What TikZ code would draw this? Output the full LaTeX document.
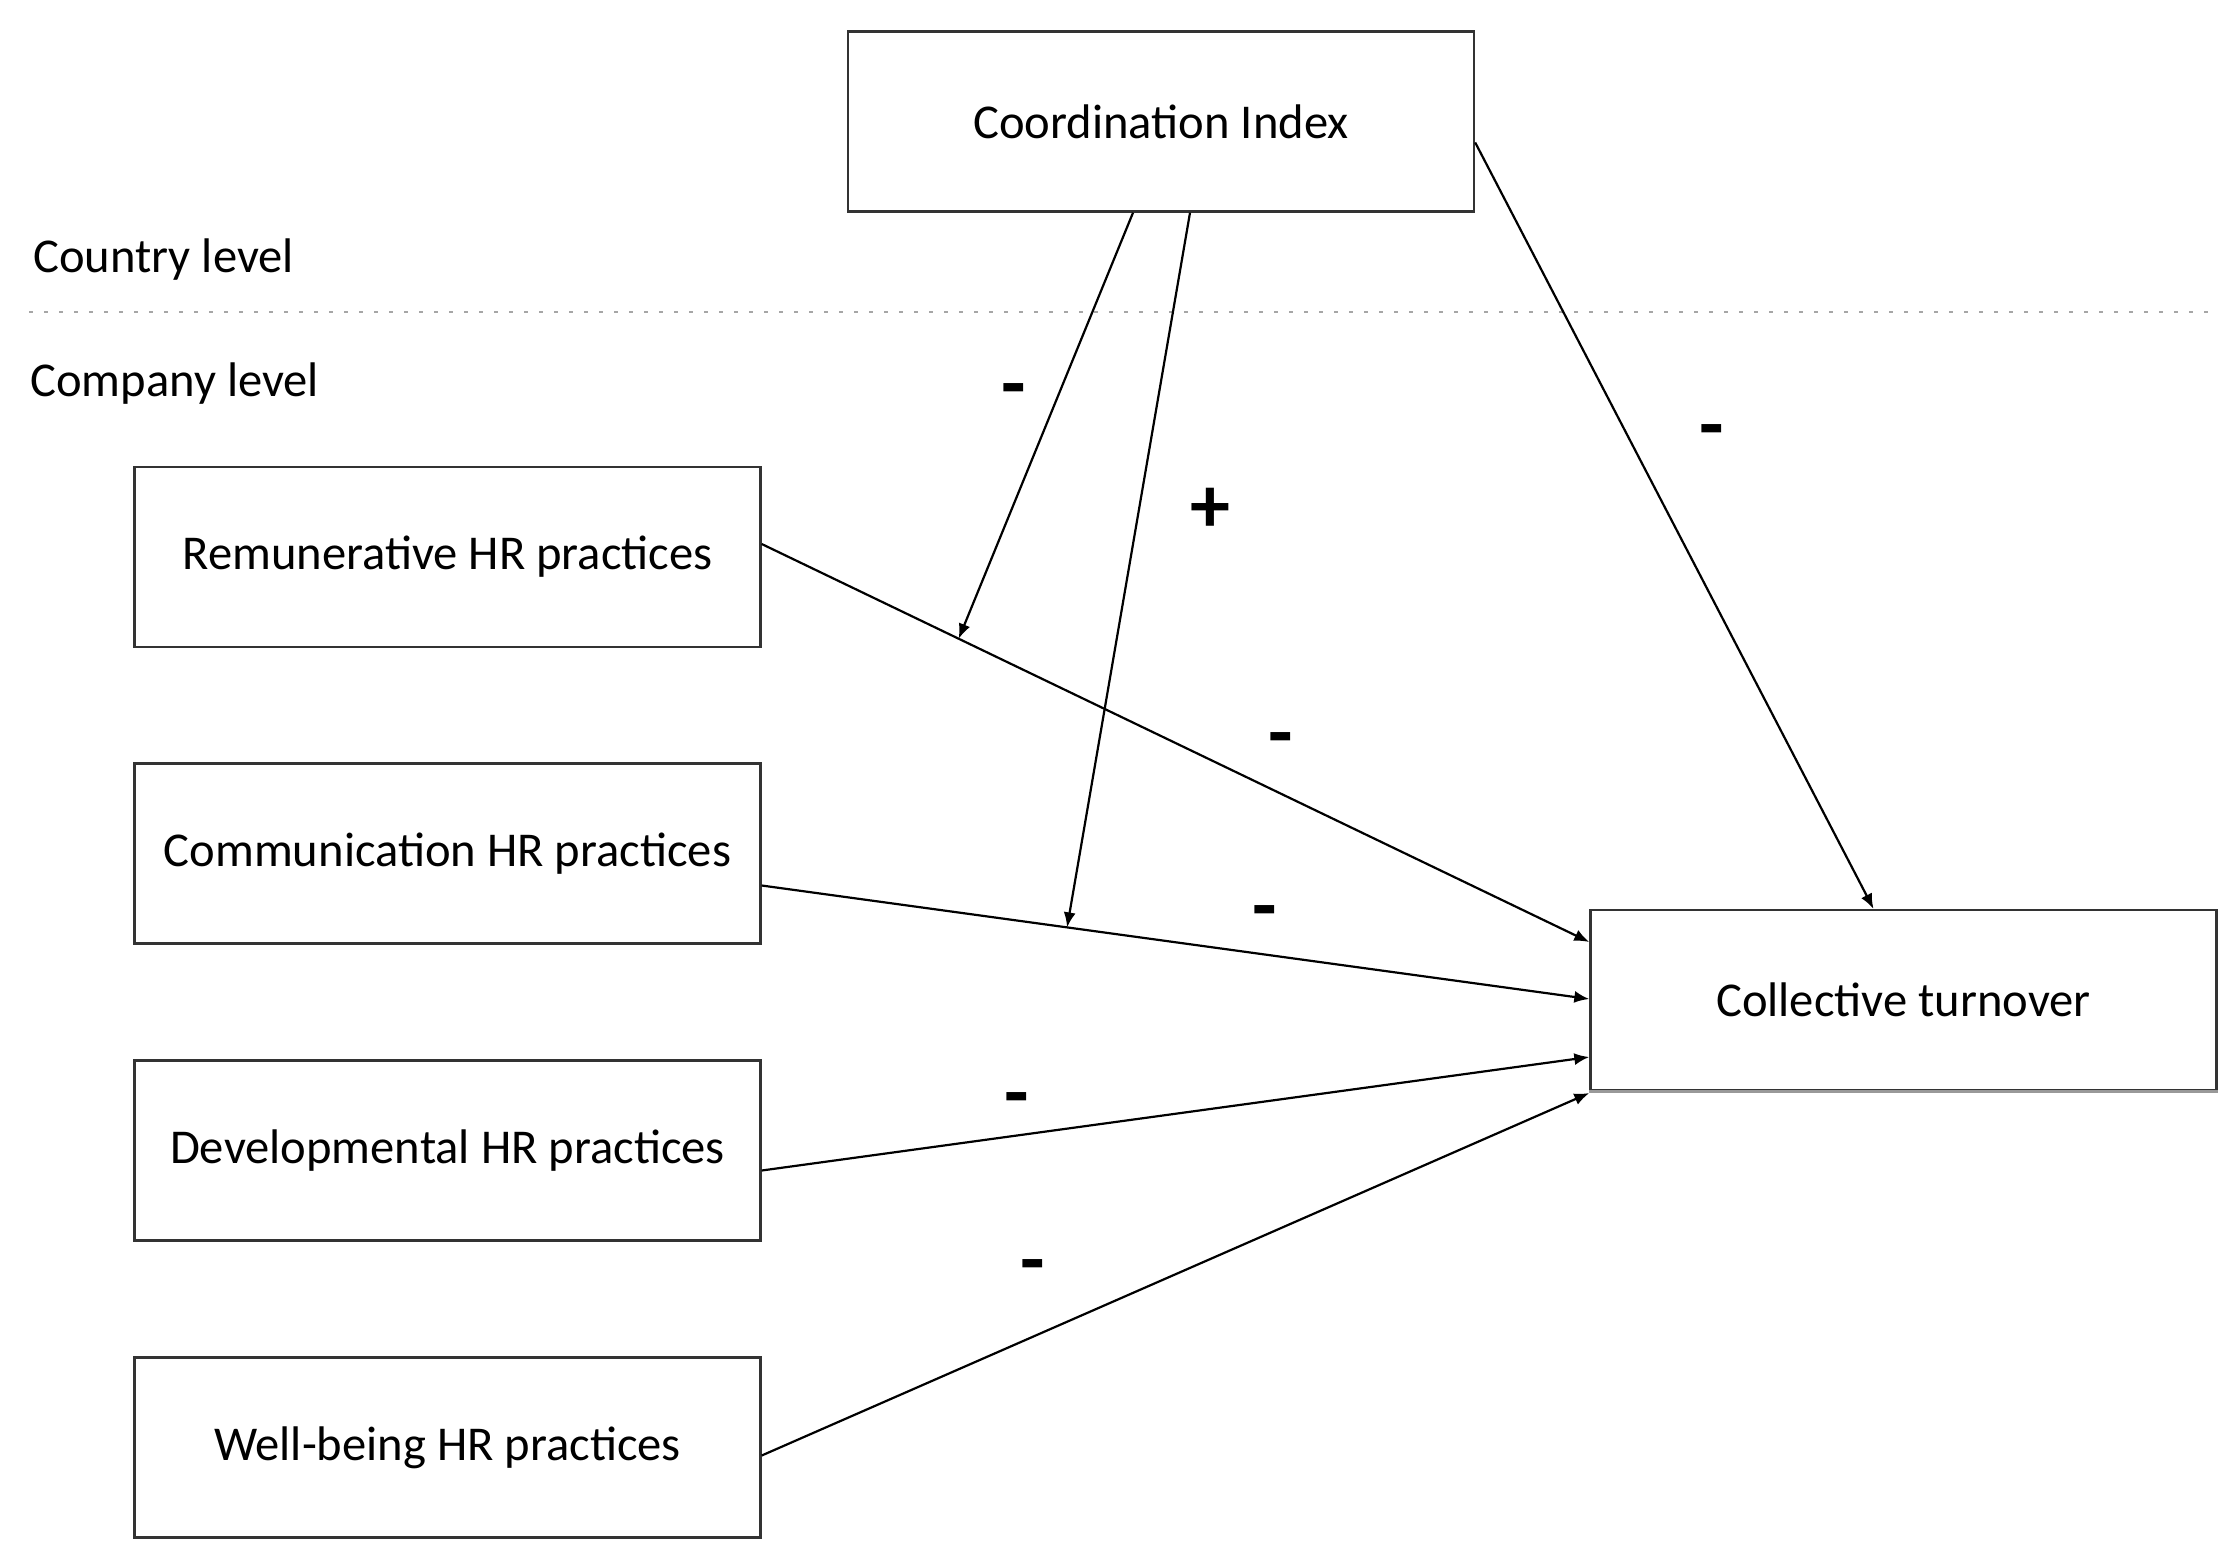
\documentclass[tikz,border=0pt]{standalone}
\usepackage{fontspec}
\setmainfont{Carlito}
\usetikzlibrary{arrows.meta,calc}
\begin{document}
\begin{tikzpicture}[x=0.5pt,y=-0.5pt,
  box/.style={draw=black!80,line width=1.2pt,minimum width=313pt,minimum height=90pt,inner sep=0pt,font=\fontsize{24.3}{28}\selectfont},
  conn/.style={line width=1.1pt,-{Latex[length=7.5pt,width=6pt]}},
  sign/.style={font=\fontsize{40}{40}\selectfont\bfseries,inner sep=0pt},
  lvl/.style={anchor=base west,inner sep=0pt,font=\fontsize{24.3}{28}\selectfont}]
\useasboundingbox (0,0) rectangle (2237,1568);
\node[box] (ci) at (1161,121.5) {Coordination Index};
\node[box] (rem) at (447.5,557) {Remunerative HR practices};
\node[box] (com) at (447.5,853.5) {Communication HR practices};
\node[box] (dev) at (447.5,1150.5) {Developmental HR practices};
\node[box] (wel) at (447.5,1447.5) {Well-being HR practices};
\node[box] (ct) at (1903.5,1000) {Collective turnover};
\draw[gray!80,line width=1.6pt] (ct.south west) -- (ct.south east);
\node[lvl] (country) at (33,272) {Country level};
\node[lvl] (company) at (30,396) {Company level};
\coordinate (dl) at (29,312);
\coordinate (dr) at (2218,312);
\draw[gray!70,line width=1pt,dash pattern=on 2pt off 5.5pt] (dl) -- (dr);
% main paths
\coordinate (r1) at ($(rem.east)+(0,-13)$);
\coordinate (r2) at ($(ct.west)+(0,-58)$);
\coordinate (c1) at ($(com.east)+(0,32)$);
\coordinate (c2) at ($(ct.west)+(0,-1)$);
\coordinate (d1) at ($(dev.east)+(0,20)$);
\coordinate (d2) at ($(ct.west)+(0,57)$);
\coordinate (w1) at ($(wel.east)+(0,8)$);
\coordinate (w2) at ($(ct.west)+(0,93)$);
\draw[conn] (r1) -- (r2);
\draw[conn] (c1) -- (c2);
\draw[conn] (d1) -- (d2);
\draw[conn] (w1) -- (w2);
\coordinate (m1) at ($(r1)!0.238!(r2)$);
\coordinate (m2) at ($(c1)!0.369!(c2)$);
\draw[conn] ($(ci.south)+(-28,0)$) -- (m1);
\draw[conn] ($(ci.south)+(29,0)$) -- (m2);
\draw[conn] ($(ci.east)+(0,21)$) -- ($(ct.north)+(-30,0)$);
% signs
\node[sign] (s1) at (1014,397) {-};
\node[sign] (s2) at (1210,510) {+};
\node[sign] (s3) at (1712,438) {-};
\node[sign] (s4) at (1281,746) {-};
\node[sign] (s5) at (1265,919) {-};
\node[sign] (s6) at (1017,1106) {-};
\node[sign] (s7) at (1033,1273) {-};
\end{tikzpicture}
\end{document}
